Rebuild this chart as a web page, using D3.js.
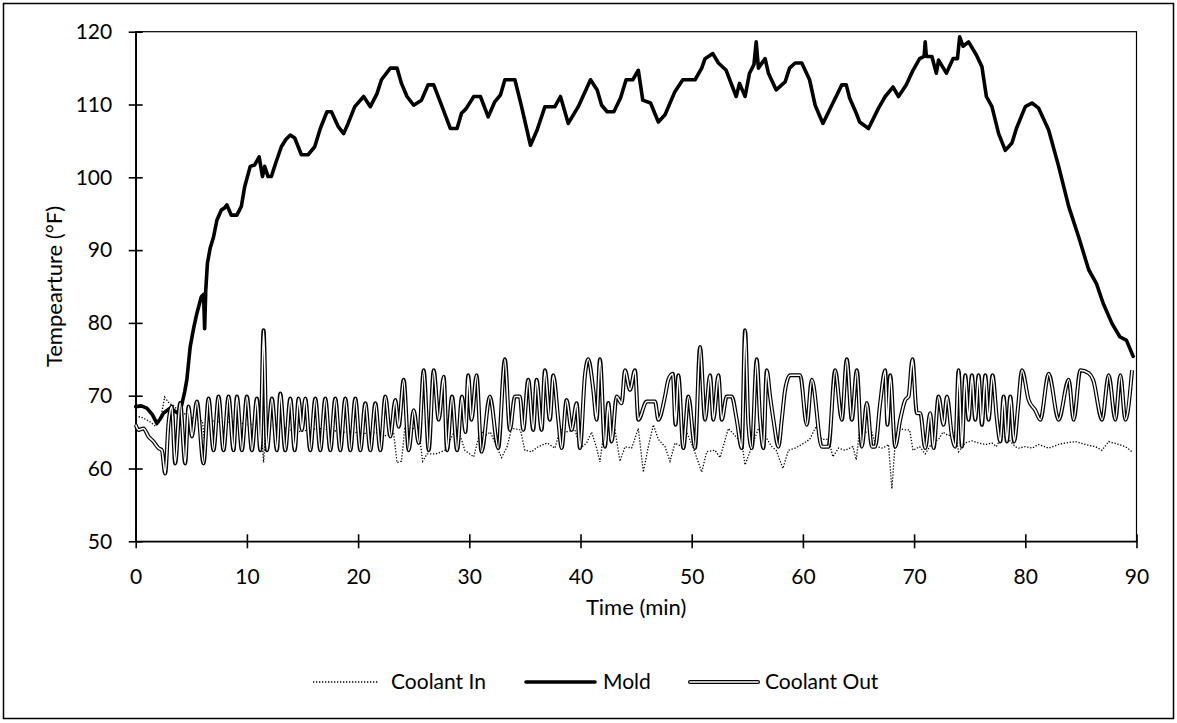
<!DOCTYPE html>
<html>
<head>
<meta charset="utf-8">
<script src="https://cdn.jsdelivr.net/npm/d3@7"></script>
<style>
  body { margin: 0; background: #fff; }
  svg text { font-family: Lato, "Open Sans", sans-serif; fill: #000; }
</style>
</head>
<body>
<svg></svg>
<script>
// Axis ticks
let xTicks = [0, 10, 20, 30, 40, 50, 60, 70, 80, 90];
let yTicks = [50, 60, 70, 80, 90, 100, 110, 120];

// Series names (legend order)
let seriesNames = ['Coolant In', 'Mold', 'Coolant Out'];

// Mold temperature [time (min), temp (F)]
let mold = [[0,68.5],[0.5,68.6],[1.0,68.3],[1.5,67.4],[1.9,66.2],[2.2,66.8],[2.5,67.6],[3.1,68.3],[3.5,67.9],[3.8,67.6],
  [4.1,68.5],[4.4,70.5],[4.6,72.2],[4.9,76.7],[5.2,79.2],[5.5,81.3],[5.9,83.6],[6.1,83.9],[6.2,79.2],[6.3,84.5],
  [6.45,88.2],[6.7,90.3],[7.0,91.8],[7.3,94.1],[7.7,95.5],[8.0,95.8],[8.2,96.2],[8.6,94.8],[9.1,94.8],[9.5,96.0],
  [9.8,98.7],[10.3,101.5],[10.7,101.7],[11.1,102.8],[11.4,100.1],[11.6,101.5],[11.9,100.1],[12.2,100.1],[12.6,102.0],[13.1,104.2],
  [13.5,105.2],[13.9,105.8],[14.3,105.4],[14.9,103.1],[15.5,103.1],[16.1,104.2],[16.6,106.7],[17.2,109.0],[17.6,109.0],[18.2,107.0],
  [18.7,106.0],[19.1,107.4],[19.7,109.7],[20.5,111.1],[21.1,109.7],[21.7,111.5],[22.1,113.4],[22.9,115.0],[23.5,115.0],[23.9,112.9],
  [24.4,111.1],[25.0,109.9],[25.7,110.6],[26.3,112.7],[26.8,112.7],[27.5,109.9],[28.3,106.7],[28.9,106.7],[29.3,108.8],[29.7,109.4],
  [30.4,111.1],[31.0,111.1],[31.7,108.3],[32.3,110.4],[32.8,111.3],[33.2,113.4],[34.1,113.4],[34.7,109.7],[35.5,104.4],[36.1,106.5],
  [36.8,109.7],[37.7,109.7],[38.2,111.1],[38.9,107.4],[39.8,109.7],[40.9,113.4],[41.5,112.0],[41.9,109.9],[42.4,109.0],[43.0,109.0],
  [43.6,110.9],[44.1,113.4],[44.7,113.4],[45.2,114.7],[45.6,110.6],[46.3,110.2],[47.0,107.6],[47.6,108.6],[48.5,111.8],[49.2,113.4],
  [50.3,113.4],[50.9,115.0],[51.2,116.3],[51.9,117.0],[52.4,115.7],[53.1,114.7],[54.0,111.1],[54.3,112.9],[54.8,111.1],[55.2,114.3],
  [55.6,115.5],[55.8,118.6],[56.0,115.0],[56.6,116.3],[56.9,114.3],[57.6,112.0],[58.4,113.1],[58.8,115.0],[59.3,115.7],[59.9,115.7],
  [60.6,113.4],[61.1,109.9],[61.8,107.4],[62.6,109.9],[63.5,112.7],[63.9,112.7],[64.2,110.9],[64.8,108.8],[65.1,107.6],[65.9,106.7],
  [66.8,109.5],[67.4,111.1],[68.1,112.4],[68.6,111.1],[69.3,112.7],[69.9,114.7],[70.5,116.3],[70.9,116.6],[71.0,118.6],[71.1,116.6],
  [71.6,116.6],[72.0,114.3],[72.2,116.1],[72.9,114.3],[73.5,116.3],[73.9,116.3],[74.1,119.3],[74.4,118.0],[74.9,118.6],[75.6,116.8],
  [76.1,115.2],[76.5,111.1],[77.0,109.7],[77.6,106.0],[78.2,103.7],[78.8,104.7],[79.2,106.7],[80.0,109.7],[80.6,110.2],[81.2,109.5],
  [82.1,106.5],[83.0,101.5],[83.9,96.0],[84.8,91.8],[85.7,87.3],[86.4,85.4],[87.0,82.7],[87.8,79.9],[88.5,78.1],[89.1,77.6],[89.7,75.4]];

// Coolant out temperature
let coolantOut = [[0,66.0],[0.25,65.3],[0.7,65.5],[1.15,64.4],[1.6,63.7],[2.05,62.8],[2.35,62.5],[2.65,59.3],[2.95,66.2],[3.25,68.5],
  [3.55,60.7],[4.0,69.0],[4.45,60.7],[4.75,68.5],[5.05,64.4],[5.5,69.2],[6.1,60.7],[6.55,69.6],[7.0,62.5],[7.45,69.9],
  [7.9,62.5],[8.35,69.9],[8.8,62.5],[9.1,69.9],[9.55,62.5],[10.0,69.9],[10.45,62.5],[10.9,69.6],[11.2,62.5],[11.5,79.0],
  [11.8,62.5],[12.25,69.6],[12.7,62.5],[13.0,70.3],[13.45,62.5],[13.9,69.6],[14.3,62.5],[14.65,69.6],[14.95,65.3],[15.25,69.6],
  [15.7,62.5],[16.15,69.6],[16.6,62.5],[17.05,69.6],[17.5,62.5],[17.95,69.6],[18.4,62.5],[18.85,69.6],[19.3,62.5],[19.75,69.6],
  [20.2,62.5],[20.65,68.95],[21.1,62.5],[21.55,68.95],[22.0,62.5],[22.45,69.9],[22.9,64.4],[23.35,69.4],[23.65,65.75],[24.1,72.2],
  [24.55,62.5],[25.0,68.0],[25.45,63.5],[25.9,73.5],[26.35,62.5],[26.8,73.5],[27.25,66.7],[27.7,72.6],[28.0,62.5],[28.45,69.9],
  [28.9,62.5],[29.35,69.9],[29.65,65.0],[29.9,72.8],[30.2,66.7],[30.65,72.8],[31.1,62.3],[31.85,69.9],[32.6,62.8],[33.2,75.0],
  [33.65,65.3],[34.1,69.9],[34.55,69.9],[34.85,65.3],[35.3,72.2],[35.75,65.3],[36.05,72.2],[36.5,65.3],[36.8,73.5],[37.25,66.7],
  [37.55,72.8],[38.0,66.7],[38.3,62.8],[38.75,69.4],[39.2,65.3],[39.65,68.95],[39.95,62.8],[40.4,72.8],[40.7,75.0],[41.15,70.8],
  [41.45,66.7],[41.75,75.0],[42.2,63.0],[42.5,69.0],[42.8,63.7],[43.25,69.9],[43.7,68.95],[44.0,73.5],[44.45,70.8],[44.9,73.5],
  [45.2,66.7],[45.95,69.2],[46.7,69.2],[47.0,66.7],[47.6,69.9],[47.9,72.2],[48.3,73.0],[48.55,66.0],[48.8,72.8],[49.25,62.8],
  [49.7,69.9],[50.3,62.8],[50.75,76.7],[51.2,66.7],[51.65,72.8],[51.95,66.7],[52.4,72.8],[52.7,66.7],[53.15,69.9],[53.6,69.9],
  [54.05,66.7],[54.5,62.8],[54.8,79.0],[55.1,66.0],[55.4,62.8],[55.85,75.0],[56.15,66.7],[56.45,62.8],[56.75,73.5],[57.05,69.9],
  [57.35,66.7],[57.8,63.0],[58.1,66.7],[58.4,70.8],[58.85,72.8],[59.75,72.8],[60.35,66.0],[60.8,72.2],[61.7,63.0],[62.3,63.0],
  [62.9,73.5],[63.5,66.7],[63.95,75.0],[64.4,66.7],[64.85,73.5],[65.3,63.0],[65.75,69.0],[66.2,63.0],[66.5,63.0],[66.95,69.0],
  [67.4,73.5],[67.6,66.0],[67.85,72.8],[68.3,63.0],[68.75,66.7],[69.2,69.4],[69.5,69.9],[69.85,75.0],[70.25,67.6],[70.55,67.6],
  [71.0,62.8],[71.45,67.6],[71.75,62.8],[72.2,69.9],[72.65,66.0],[72.95,69.9],[73.4,64.5],[73.7,63.0],[74.0,73.5],[74.3,63.0],
  [74.6,72.8],[74.9,66.7],[75.2,72.8],[75.5,66.7],[75.8,72.8],[76.1,66.0],[76.4,72.8],[76.7,66.7],[77.05,72.8],[77.45,66.7],
  [77.75,63.7],[78.05,69.9],[78.35,63.7],[78.65,69.9],[79.0,63.7],[79.35,68.5],[79.7,73.5],[80.3,69.4],[80.9,68.0],[81.35,66.7],
  [82.1,73.0],[83.0,66.7],[83.9,72.2],[84.35,66.7],[84.95,73.5],[85.7,73.1],[86.1,72.2],[86.9,66.7],[87.5,72.8],[88.1,66.7],
  [88.55,72.8],[89.0,66.7],[89.6,73.5]];

// Coolant in temperature
let coolantIn = [[0,67.2],[0.6,67.0],[1.2,66.5],[1.8,65.8],[2.2,66.5],[2.6,69.8],[3.0,69.0],[3.5,68.5],[4.0,67.5],[4.5,67.5],
  [5.0,67.0],[5.5,66.8],[6.0,66.5],[6.2,63.5],[6.4,66.8],[7.0,66.5],[8.0,66.3],[9.0,66.5],[10.0,66.0],[11.0,66.2],
  [11.3,65.5],[11.5,60.8],[11.7,66.0],[12.5,65.8],[13.5,65.5],[14.5,65.0],[15.5,65.3],[16.5,65.5],[17.5,65.3],[18.5,65.0],
  [19.5,65.0],[20.5,64.8],[21.5,65.0],[22.5,64.5],[23.2,64.8],[23.5,60.8],[23.9,61.0],[24.2,65.5],[25.0,65.5],[25.5,64.8],
  [25.8,61.0],[26.2,62.0],[27.0,62.0],[27.8,62.5],[28.3,64.0],[28.8,65.5],[29.3,64.0],[29.6,62.5],[30.4,61.6],[31.0,65.3],
  [31.4,64.5],[31.9,65.0],[32.6,62.5],[32.9,61.5],[33.4,63.0],[33.8,65.5],[34.6,65.3],[35.0,62.5],[35.6,62.3],[36.2,63.0],
  [37.0,63.5],[37.7,62.8],[38.2,65.5],[38.6,65.0],[39.5,65.3],[40.0,62.8],[40.55,63.5],[41.0,65.0],[41.45,62.8],[41.75,60.9],
  [42.05,64.5],[42.65,65.5],[43.1,65.3],[43.55,61.0],[44.0,63.0],[44.6,62.8],[45.2,65.5],[45.65,59.5],[46.1,63.0],[46.55,66.0],
  [47.0,64.0],[47.6,63.0],[48.05,61.0],[48.5,63.5],[49.1,63.0],[49.4,65.5],[50.15,62.8],[50.9,59.5],[51.35,62.3],[52.1,62.5],
  [52.55,61.5],[53.3,65.5],[53.9,64.5],[54.5,63.5],[54.8,60.5],[55.4,63.0],[56.0,65.5],[56.6,64.5],[57.2,63.0],[57.6,62.5],
  [58.2,60.0],[58.7,62.5],[59.3,62.8],[59.9,63.3],[60.6,64.0],[61.2,65.8],[61.7,64.0],[62.3,64.0],[62.7,61.6],[63.2,62.8],
  [63.8,62.5],[64.5,63.0],[64.8,61.2],[65.1,65.3],[65.6,65.0],[66.2,65.0],[66.6,63.0],[67.2,62.8],[67.7,63.3],[68.0,57.2],
  [68.3,63.5],[68.6,65.5],[69.2,65.3],[69.6,65.3],[69.9,62.5],[70.5,63.0],[71.0,62.0],[71.6,63.5],[72.2,64.0],[72.6,65.0],
  [73.1,64.5],[73.7,65.0],[74.0,62.3],[74.6,63.5],[75.2,63.8],[75.8,63.5],[76.4,63.3],[77.0,63.5],[77.4,63.0],[77.9,64.5],
  [78.5,64.0],[79.1,63.0],[79.4,62.8],[80.0,63.0],[80.6,62.8],[81.2,63.3],[82.1,62.8],[83.0,63.3],[83.6,63.5],[84.5,63.7],
  [85.4,63.3],[86.3,63.0],[86.9,62.5],[87.5,63.7],[88.4,63.3],[89.0,63.0],[89.6,62.3]];

// SVG Dimensions
let width = 1177, height = 723;
let plotLeft = 135.7, plotRight = 1136.5, plotTop = 31.7, plotBottom = 541.3;

let svg = d3.select('svg').attr('width', width).attr('height', height);

let x = d3.scaleLinear().domain([0, 90]).range([plotLeft, plotRight]);
let y = d3.scaleLinear().domain([50, 120]).range([plotBottom, plotTop]);

// Outer chart border
svg.append('rect')
    .attr('x', 3.5).attr('y', 3.5)
    .attr('width', 1170).attr('height', 715)
    .attr('fill', 'none').attr('stroke', '#000').attr('stroke-width', 1.5);

// Plot area frame
svg.append('rect')
    .attr('x', plotLeft).attr('y', plotTop)
    .attr('width', plotRight - plotLeft).attr('height', plotBottom - plotTop)
    .attr('fill', 'none').attr('stroke', '#000').attr('stroke-width', 1.2);

// Axes, ticks cross the axis line
let xAxis = svg.append('g')
    .attr('transform', `translate(0,${plotBottom})`)
    .call(d3.axisBottom(x).tickValues(xTicks).tickSizeInner(7).tickSizeOuter(0).tickPadding(21));
xAxis.selectAll('.tick line').attr('y1', -7).attr('y2', 7);

let yAxis = svg.append('g')
    .attr('transform', `translate(${plotLeft},0)`)
    .call(d3.axisLeft(y).tickValues(yTicks).tickSizeInner(7).tickSizeOuter(0).tickPadding(16.5));
yAxis.selectAll('.tick line').attr('x1', 7).attr('x2', -7);

svg.selectAll('.domain, .tick line').attr('stroke', '#000').attr('stroke-width', 1.6);
svg.selectAll('.tick text').style('font-size', '21px').style('font-family', 'Lato, sans-serif');

// Axis titles
svg.append('text')
    .attr('x', (plotLeft + plotRight) / 2).attr('y', 615)
    .attr('text-anchor', 'middle')
    .style('font-size', '22px')
    .text('Time (min)');

svg.append('text')
    .attr('transform', `translate(62,${(plotTop + plotBottom) / 2}) rotate(-90)`)
    .attr('text-anchor', 'middle')
    .style('font-size', '22px')
    .text('Tempearture (°F)');

// Lines
let line = d3.line().x(d => x(d[0])).y(d => y(d[1]));
let smoothLine = d3.line().x(d => x(d[0])).y(d => y(d[1])).curve(d3.curveMonotoneX);

let plot = svg.append('g');

plot.append('path')
    .attr('d', line(coolantIn))
    .attr('fill', 'none').attr('stroke', '#000').attr('stroke-width', 1.3)
    .attr('stroke-dasharray', '1.3,1.7');

plot.append('path')
    .attr('d', line(mold))
    .attr('fill', 'none').attr('stroke', '#000').attr('stroke-width', 3.6)
    .attr('stroke-linejoin', 'round').attr('stroke-linecap', 'round');

// Coolant Out is a double line: black outline with a white core
plot.append('path')
    .attr('d', smoothLine(coolantOut))
    .attr('fill', 'none').attr('stroke', '#000').attr('stroke-width', 4)
    .attr('stroke-linejoin', 'round');
plot.append('path')
    .attr('d', smoothLine(coolantOut))
    .attr('fill', 'none').attr('stroke', '#fff').attr('stroke-width', 1.6)
    .attr('stroke-linejoin', 'round');

// Legend
let legendY = 682;
let legendItems = [
    {name: seriesNames[0], x1: 313, x2: 379, tx: 391},
    {name: seriesNames[1], x1: 526, x2: 595, tx: 603},
    {name: seriesNames[2], x1: 690, x2: 758, tx: 765}
];
let legend = svg.append('g');
legendItems.forEach((item, i) => {
    if (i === 0) {
        legend.append('line').attr('x1', item.x1).attr('x2', item.x2).attr('y1', legendY).attr('y2', legendY)
            .attr('stroke', '#000').attr('stroke-width', 1.3).attr('stroke-dasharray', '1.3,1.7');
    } else if (i === 1) {
        legend.append('line').attr('x1', item.x1).attr('x2', item.x2).attr('y1', legendY).attr('y2', legendY)
            .attr('stroke', '#000').attr('stroke-width', 3.6).attr('stroke-linecap', 'round');
    } else {
        legend.append('line').attr('x1', item.x1).attr('x2', item.x2).attr('y1', legendY).attr('y2', legendY)
            .attr('stroke', '#000').attr('stroke-width', 4).attr('stroke-linecap', 'round');
        legend.append('line').attr('x1', item.x1).attr('x2', item.x2).attr('y1', legendY).attr('y2', legendY)
            .attr('stroke', '#fff').attr('stroke-width', 1.6).attr('stroke-linecap', 'round');
    }
    legend.append('text')
        .attr('x', item.tx).attr('y', legendY)
        .attr('dy', '0.35em')
        .style('font-size', '21px')
        .text(item.name);
});
</script>
</body>
</html>
